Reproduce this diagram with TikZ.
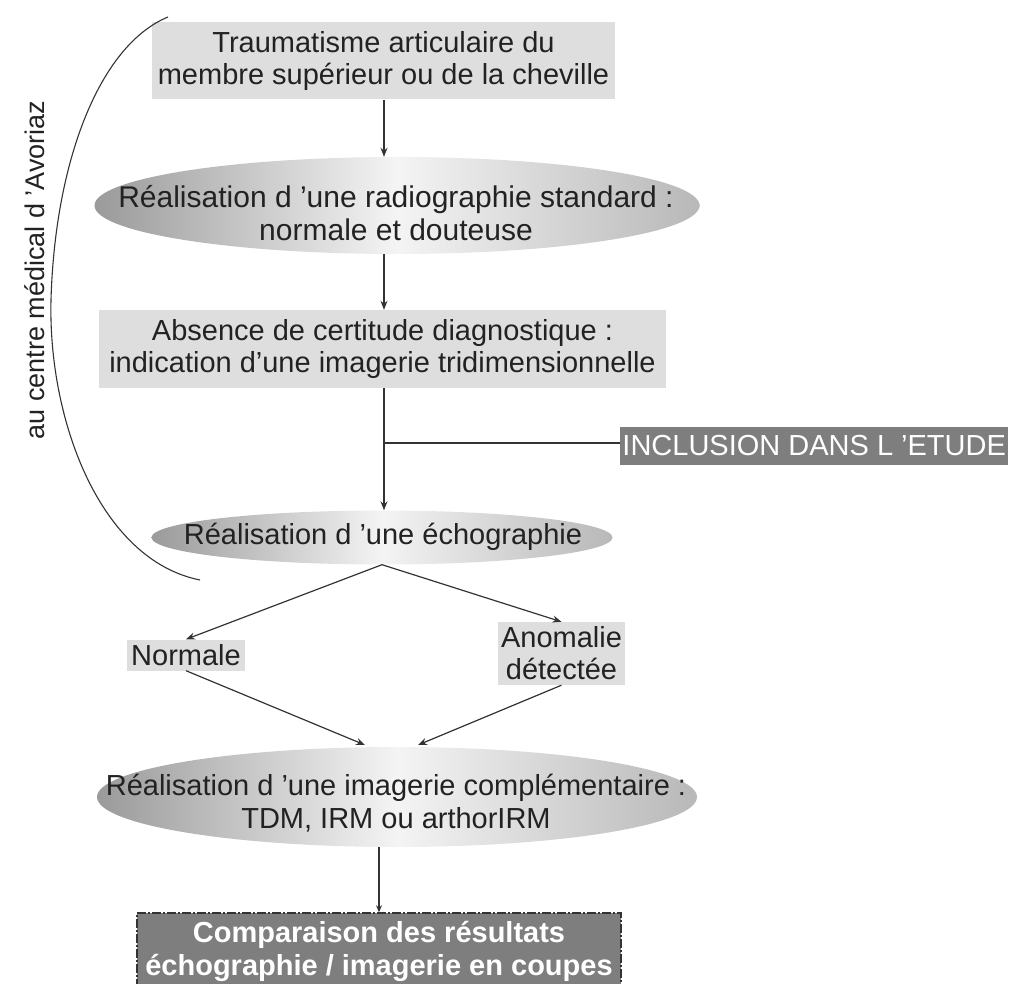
\documentclass[tikz,border=0pt]{standalone}
\usepackage{fontspec}
\setmainfont{Liberation Sans}
\usetikzlibrary{shapes.geometric,arrows.meta}
\definecolor{boxgray}{HTML}{DEDEDE}
\definecolor{darkgray2}{HTML}{7E7E7E}
\definecolor{txt}{HTML}{222222}
\definecolor{linec}{HTML}{333333}
\definecolor{elll}{HTML}{9A9A9A}
\definecolor{ellm}{HTML}{F4F4F4}
\definecolor{ellr}{HTML}{B8B8B8}
\begin{document}
\begin{tikzpicture}[x=1pt,y=-1pt,
  every node/.style={font=\fontsize{29}{32}\selectfont, text=txt, align=center, inner sep=0pt},
  rectbox/.style={fill=boxgray},
  ellbox/.style={ellipse, left color=elll, right color=ellr, middle color=ellm},
  darkbox/.style={fill=darkgray2, text=white},
  conn/.style={draw=linec, line width=1.2pt},
  arr/.style={conn, -{Stealth[length=9pt,width=7pt]}}
]
\useasboundingbox (0,0) rectangle (1013,984);
% nodes
\node[rectbox, minimum width=463, minimum height=77] (b1) at (383.5,61) {Traumatisme articulaire du\\membre supérieur ou de la cheville};
\node[ellbox, minimum width=605, minimum height=97] (e1) at (397,205.5) {};
\node[font=\fontsize{30}{33}\selectfont] (e1t) at (396,213) {Réalisation d 'une radiographie standard :\\normale et douteuse};
\node[rectbox, minimum width=567, minimum height=78] (b2) at (382.5,349) {Absence de certitude diagnostique :\\indication d’une imagerie tridimensionnelle};
\node[darkbox, minimum width=388, minimum height=38, anchor=west] (inc) at (620,446) {INCLUSION DANS L 'ETUDE};
\node[ellbox, minimum width=461, minimum height=54] (e3) at (382,537.5) {};
\node (e3t) at (383,537) {Réalisation d 'une échographie};
\node[rectbox, minimum width=118, minimum height=31] (nor) at (186,655) {Normale};
\node[rectbox, minimum width=127, minimum height=63] (ano) at (561.5,653.5) {Anomalie\\détectée};
\node[ellbox, minimum width=600, minimum height=100] (e4) at (397,797) {};
\node[font=\fontsize{29}{33}\selectfont] (e4t) at (396,803.5) {Réalisation d 'une imagerie complémentaire :\\TDM, IRM ou arthorIRM};
\node[darkbox, minimum width=484, minimum height=76, draw=black!80, line width=1.5pt, dash pattern=on 9pt off 2pt on 2pt off 2pt, font=\bfseries\fontsize{29}{33}\selectfont] (fin) at (379,951) {Comparaison des résultats\\échographie / imagerie en coupes};
\node[rotate=90, font=\fontsize{27}{30}\selectfont] (av) at (35,270) {au centre médical d 'Avoriaz};
% bracket
\draw[line width=1.1pt, draw=linec] (168,17) .. controls (100,45) and (55,160) .. (51,300) .. controls (48,420) and (100,560) .. (200,580);
% connectors
\coordinate (j) at (384,443);
\draw[arr] (b1.south -| 384,0) -- (e1.north -| 384,0);
\draw[arr] (e1.south -| 384,0) -- (b2.north -| 384,0);
\draw[arr] (b2.south -| 384,0) -- (e3.north -| 384,0);
\draw[conn] (j) -- (inc.west |- j);
\draw[arr] (e3.south) -- (nor.north);
\draw[arr] (e3.south) -- (ano.north);
\draw[arr] (nor.south) -- (365,745);
\draw[arr] (ano.south) -- (418,745);
\draw[conn, -{Stealth[length=7pt,width=6pt,open]}] (e4.south -| 379,0) -- (fin.north -| 379,0);
\end{tikzpicture}
\end{document}
